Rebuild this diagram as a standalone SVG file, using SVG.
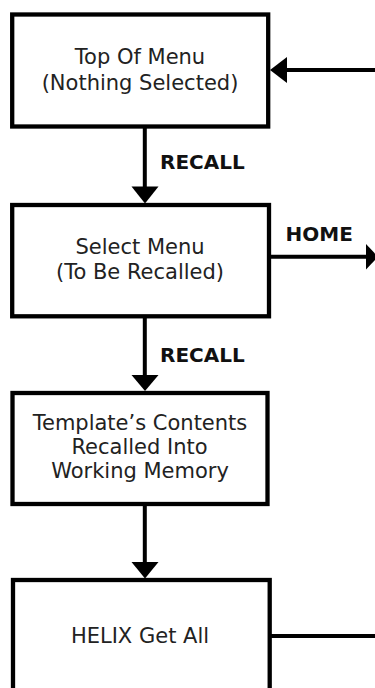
<svg xmlns="http://www.w3.org/2000/svg" width="375" height="688" viewBox="0 0 375 688">
  <style>
    .box { fill: #ffffff; stroke: #000000; stroke-width: 4.3; }
    .wire { fill: none; stroke: #000000; stroke-width: 4; }
    .head { fill: #000000; stroke: none; }
    .txt { font-family: "DejaVu Sans", Verdana, sans-serif; font-size: 21px; fill: #222222; text-anchor: middle; }
    .lbl { font-family: "DejaVu Sans", Verdana, sans-serif; font-size: 20px; font-weight: bold; fill: #111111; }
  </style>
  <rect width="375" height="688" fill="#ffffff"/>

  <!-- connectors -->
  <g id="connectors">
    <!-- return into top of menu -->
    <line class="wire" x1="375" y1="70" x2="285" y2="70"/>
    <polygon class="head" points="270,70 287,57 287,83"/>
    <!-- RECALL: top -> select -->
    <line class="wire" x1="144.8" y1="128" x2="144.8" y2="188"/>
    <polygon class="head" points="131.5,186.5 158.5,186.5 145,203.5"/>
    <text class="lbl" x="160" y="168.5">RECALL</text>
    <!-- HOME exit -->
    <line class="wire" x1="270" y1="256.7" x2="368" y2="256.7"/>
    <polygon class="head" points="366,244 378,256.7 366,269.5"/>
    <text class="lbl" x="285.5" y="241">HOME</text>
    <!-- RECALL: select -> template -->
    <line class="wire" x1="144.8" y1="318" x2="144.8" y2="377"/>
    <polygon class="head" points="131.5,375 158.5,375 145,391"/>
    <text class="lbl" x="160" y="361.7">RECALL</text>
    <!-- template -> get all -->
    <line class="wire" x1="144.8" y1="506" x2="144.8" y2="564"/>
    <polygon class="head" points="131.5,562 158.5,562 145,578.5"/>
    <!-- get all -> return -->
    <line class="wire" x1="270" y1="636" x2="375" y2="636"/>
  </g>

  <g id="top-of-menu">
    <rect class="box" x="12.2" y="14.5" width="256" height="112"/>
    <text class="txt" x="140" y="64">Top Of Menu</text>
    <text class="txt" x="140" y="89.5">(Nothing Selected)</text>
  </g>

  <g id="select-menu">
    <rect class="box" x="12.2" y="205" width="256.8" height="111.3"/>
    <text class="txt" x="140" y="254">Select Menu</text>
    <text class="txt" x="140" y="279.3">(To Be Recalled)</text>
  </g>

  <g id="template-contents">
    <rect class="box" x="12.5" y="393" width="255" height="111"/>
    <text class="txt" x="140" y="429.5">Template’s Contents</text>
    <text class="txt" x="139.5" y="453.5">Recalled Into</text>
    <text class="txt" x="140" y="477.5">Working Memory</text>
  </g>

  <g id="helix-get-all">
    <rect class="box" x="13" y="580" width="256.7" height="160"/>
    <text class="txt" x="140" y="643">HELIX Get All</text>
  </g>
</svg>
